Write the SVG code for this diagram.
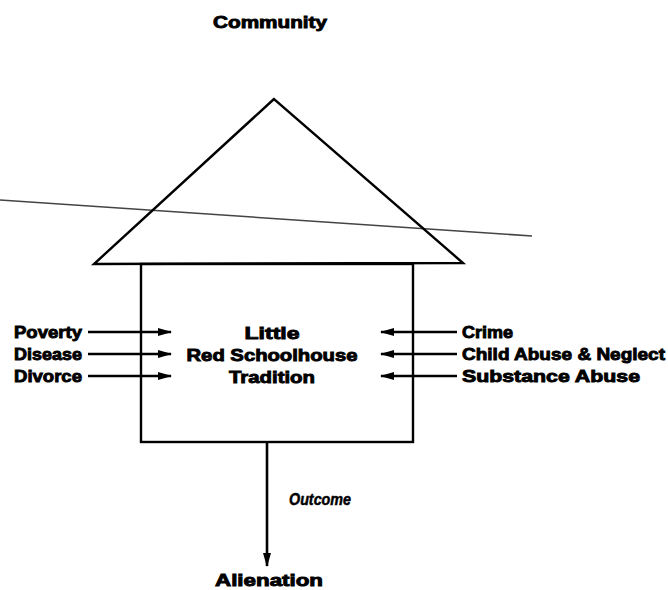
<svg xmlns="http://www.w3.org/2000/svg" width="668" height="590" viewBox="0 0 668 590">
  <defs>
    <marker id="head" viewBox="0 0 14 8" refX="13" refY="4" markerWidth="14" markerHeight="8" markerUnits="userSpaceOnUse" orient="auto">
      <path d="M0,0 L14,4 L0,8 Z" fill="#000"/>
    </marker>
    <style>
      .lbl { font-family: "Liberation Sans", Arial, sans-serif; font-weight: bold; font-size: 17px; fill: #000; stroke: #000; stroke-width: 0.9; }
      .mid { text-anchor: middle; }
      .ital { font-style: italic; stroke-width: 0.5; }
      .edge { stroke: #000; stroke-width: 2.4; fill: none; }
      .arrow { stroke: #000; stroke-width: 2.6; fill: none; marker-end: url(#head); }
    </style>
  </defs>
  <rect width="668" height="590" fill="#fff"/>

  <!-- faint rule running across the roof -->
  <line x1="0" y1="200" x2="532" y2="236" stroke="#444" stroke-width="1.5"/>

  <text class="lbl mid" x="270" y="28" textLength="114" lengthAdjust="spacingAndGlyphs">Community</text>

  <!-- schoolhouse -->
  <g id="schoolhouse">
    <polygon class="edge" points="274,99 94,264 463,263"/>
    <rect class="edge" x="141" y="264" width="272" height="178"/>
    <text class="lbl mid" x="272" y="339" textLength="55" lengthAdjust="spacingAndGlyphs">Little</text>
    <text class="lbl mid" x="272" y="361" textLength="171" lengthAdjust="spacingAndGlyphs">Red Schoolhouse</text>
    <text class="lbl mid" x="272" y="383" textLength="86" lengthAdjust="spacingAndGlyphs">Tradition</text>
  </g>

  <!-- forces from outside -->
  <g id="poverty"><text class="lbl" x="14" y="338" textLength="68" lengthAdjust="spacingAndGlyphs">Poverty</text></g>
  <g id="disease"><text class="lbl" x="14" y="360" textLength="68" lengthAdjust="spacingAndGlyphs">Disease</text></g>
  <g id="divorce"><text class="lbl" x="14" y="382" textLength="68" lengthAdjust="spacingAndGlyphs">Divorce</text></g>
  <g id="crime"><text class="lbl" x="462" y="338" textLength="51" lengthAdjust="spacingAndGlyphs">Crime</text></g>
  <g id="child-abuse"><text class="lbl" x="462" y="360" textLength="203" lengthAdjust="spacingAndGlyphs">Child Abuse &amp; Neglect</text></g>
  <g id="substance-abuse"><text class="lbl" x="462" y="382" textLength="178" lengthAdjust="spacingAndGlyphs">Substance Abuse</text></g>

  <g id="alienation">
    <text class="lbl mid" x="269" y="586" textLength="108" lengthAdjust="spacingAndGlyphs">Alienation</text>
  </g>

  <g id="connectors">
    <line class="arrow" x1="88" y1="332" x2="171" y2="332"/>
    <line class="arrow" x1="88" y1="354" x2="171" y2="354"/>
    <line class="arrow" x1="88" y1="376" x2="171" y2="376"/>
    <line class="arrow" x1="457" y1="332" x2="381" y2="332"/>
    <line class="arrow" x1="457" y1="354" x2="381" y2="354"/>
    <line class="arrow" x1="457" y1="376" x2="381" y2="376"/>
    <line class="arrow" x1="267" y1="442" x2="267" y2="566"/>
    <text class="lbl ital" x="289" y="505" textLength="62" lengthAdjust="spacingAndGlyphs">Outcome</text>
  </g>
</svg>
